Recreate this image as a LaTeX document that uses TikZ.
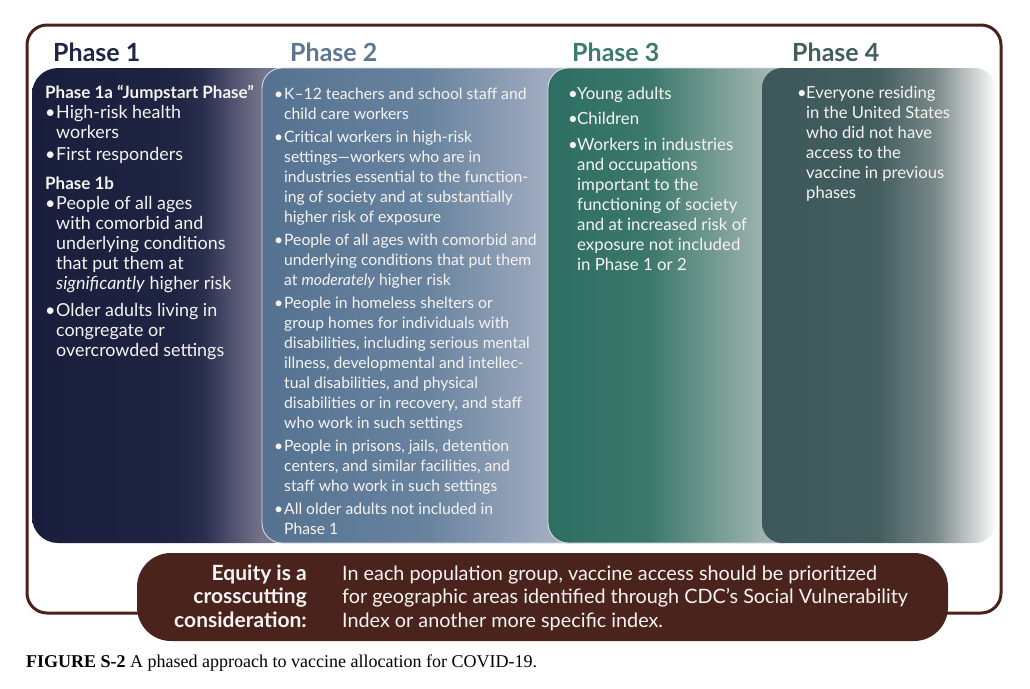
\documentclass[tikz,border=0pt]{standalone}
\usepackage{fontspec}
\setmainfont{Lato}
\newfontfamily\capfont{Liberation Serif}
\definecolor{frameC}{RGB}{74,34,28}
\definecolor{eqC}{RGB}{75,35,29}
\definecolor{hA}{RGB}{31,37,66}
\definecolor{hB}{RGB}{91,119,146}
\definecolor{hC}{RGB}{59,123,108}
\definecolor{hD}{RGB}{64,96,92}
\definecolor{txtC}{RGB}{245,244,242}
\definecolor{edgeC}{RGB}{215,220,226}
% phase 1 shading
\definecolor{pA0}{RGB}{24,30,60}
\definecolor{pA1}{RGB}{30,36,66}
\definecolor{pA2}{RGB}{42,47,78}
\definecolor{pA3}{RGB}{92,92,120}
\definecolor{pA4}{RGB}{118,116,140}
\definecolor{pA5}{RGB}{130,128,150}
% phase 2
\definecolor{pB0}{RGB}{84,114,144}
\definecolor{pB1}{RGB}{104,131,158}
\definecolor{pB2}{RGB}{160,171,192}
\definecolor{pB3}{RGB}{170,180,198}
% phase 3
\definecolor{pC0}{RGB}{46,110,98}
\definecolor{pC1}{RGB}{60,120,108}
\definecolor{pC2}{RGB}{156,179,173}
\definecolor{pC3}{RGB}{170,188,182}
% phase 4
\definecolor{pD0}{RGB}{60,88,90}
\definecolor{pD1}{RGB}{68,94,96}
\definecolor{pD2}{RGB}{120,135,135}
\definecolor{pD3}{RGB}{200,205,205}
\definecolor{pD4}{RGB}{250,250,250}
\pgfdeclarehorizontalshading{phA}{100bp}{color(0bp)=(pA0); color(25bp)=(pA0); color(52bp)=(pA1); color(57bp)=(pA2); color(64bp)=(pA3); color(68bp)=(pA4); color(75bp)=(pA5); color(100bp)=(pA5)}
\pgfdeclarehorizontalshading{phB}{100bp}{color(0bp)=(pB0); color(25bp)=(pB0); color(50bp)=(pB1); color(68.5bp)=(pB2); color(75bp)=(pB3); color(100bp)=(pB3)}
\pgfdeclarehorizontalshading{phC}{100bp}{color(0bp)=(pC0); color(25bp)=(pC0); color(45bp)=(pC1); color(67bp)=(pC2); color(75bp)=(pC3); color(100bp)=(pC3)}
\pgfdeclarehorizontalshading{phD}{100bp}{color(0bp)=(pD0); color(25bp)=(pD0); color(50bp)=(pD1); color(62bp)=(pD2); color(70bp)=(pD3); color(75bp)=(pD4); color(100bp)=(pD4)}
\newlength{\bw}
\newcommand{\bl}{\makebox[\bw][l]{•}}
\newcommand{\ind}{\hspace*{\bw}}
\begin{document}
\begin{tikzpicture}[x=1pt,y=-1pt,
  frame/.style={draw=frameC, line width=3pt, rounded corners=20pt},
  panel/.style={rounded corners=20pt},
  pedge/.style={draw=edgeC, line width=0.9pt},
  head/.style={inner sep=0pt, anchor=base west, font=\fontsize{25}{30}\selectfont\bfseries},
  body/.style={inner sep=0pt, anchor=north west, align=left, text=txtC},
  eqtext/.style={inner sep=0pt, text=txtC}]
\useasboundingbox (0,0) rectangle (1030,688);
\fill[white] (0,0) rectangle (1030,688);
% outer frame
\draw[frame] (27,25) rectangle (1001,613);
% panels
\path[panel, rounded corners=26pt, shading=phA] (32,68) rectangle (300,543);
\path[panel, shading=phB, pedge] (262,68) rectangle (590,543);
\path[panel, shading=phC, pedge] (548,68) rectangle (802,543);
\path[panel, shading=phD] (762,68) rectangle (995,543);
% headers
\node[head, text=hA] (h1) at (53,61) {Phase 1};
\node[head, text=hB] (h2) at (290,61) {Phase 2};
\node[head, text=hC] (h3) at (572,61) {Phase 3};
\node[head, text=hD] (h4) at (792,61) {Phase 4};
% phase 1 text
\node[body, font=\fontsize{17.9}{20}\selectfont\setlength{\bw}{11pt}] (t1) at (45,85.5) {%
{\fontsize{17}{20}\selectfont\textbf{Phase 1a “Jumpstart Phase”}}\\
\bl High-risk health\\
\ind workers\\[2pt]
\bl First responders\\[9pt]
{\fontsize{17}{20}\selectfont\textbf{Phase 1b}}\\
\bl People of all ages\\
\ind with comorbid and\\
\ind underlying conditions\\
\ind that put them at\\
\ind \textit{significantly} higher risk\\[7pt]
\bl Older adults living in\\
\ind congregate or\\
\ind overcrowded settings};
% phase 2 text
\node[body, font=\fontsize{15.7}{20}\selectfont\setlength{\bw}{10pt}] (t2) at (274,87.4) {%
\bl K–12 teachers and school staff and\\
\ind child care workers\\[3pt]
\bl Critical workers in high-risk\\
\ind settings—workers who are in\\
\ind industries essential to the function-\\
\ind ing of society and at substantially\\
\ind higher risk of exposure\\[3pt]
\bl People of all ages with comorbid and\\
\ind underlying conditions that put them\\
\ind at \textit{moderately} higher risk\\[3pt]
\bl People in homeless shelters or\\
\ind group homes for individuals with\\
\ind disabilities, including serious mental\\
\ind illness, developmental and intellec-\\
\ind tual disabilities, and physical\\
\ind disabilities or in recovery, and staff\\
\ind who work in such settings\\[3pt]
\bl People in prisons, jails, detention\\
\ind centers, and similar facilities, and\\
\ind staff who work in such settings\\[3pt]
\bl All older adults not included in\\
\ind Phase 1};
% phase 3 text
\node[body, font=\fontsize{16.8}{20}\selectfont\setlength{\bw}{9pt}] (t3) at (568,86.6) {%
\bl Young adults\\[5pt]
\bl Children\\[6pt]
\bl Workers in industries\\
\ind and occupations\\
\ind important to the\\
\ind functioning of society\\
\ind and at increased risk of\\
\ind exposure not included\\
\ind in Phase 1 or 2};
% phase 4 text
\node[body, font=\fontsize{16.6}{20}\selectfont\setlength{\bw}{9pt}] (t4) at (797,85.8) {%
\bl Everyone residing\\
\ind in the United States\\
\ind who did not have\\
\ind access to the\\
\ind vaccine in previous\\
\ind phases};
% equity box
\path[fill=eqC, rounded corners=34pt] (137,553) rectangle (948,641);
\node[eqtext, anchor=north east, align=right, font=\fontsize{21}{23.5}\selectfont\bfseries] (eq1) at (307,564.5) {Equity is a\\crosscutting\\consideration:};
\node[eqtext, anchor=north west, align=left, font=\fontsize{19.8}{23.5}\selectfont] (eq2) at (342,565.3) {In each population group, vaccine access should be prioritized\\for geographic areas identified through CDC’s Social Vulnerability\\Index or another more specific index.};
% caption
\node[inner sep=0pt, anchor=base west, font=\capfont\fontsize{18}{21}\selectfont] (cap) at (26,667) {\textbf{FIGURE S-2} A phased approach to vaccine allocation for COVID-19.};
\end{tikzpicture}
\end{document}
